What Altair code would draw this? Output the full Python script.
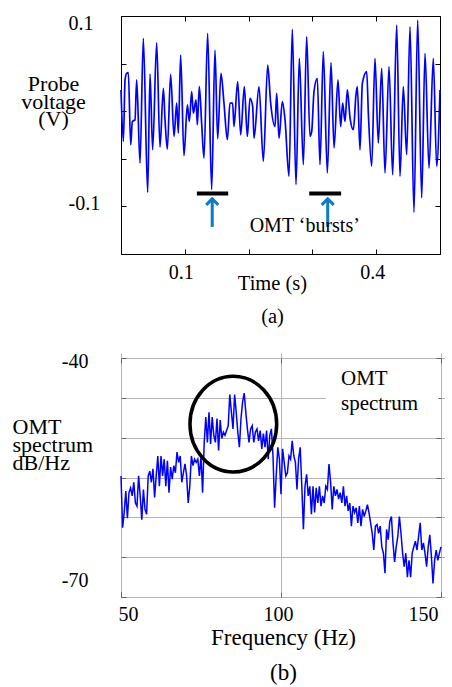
import altair as alt
import numpy as np
import pandas as pd

SERIF = "Liberation Serif, Times New Roman, serif"
TRACE_BLUE = "#0000ff"
ARROW_BLUE = "#0a7cc4"

# ---- (a) probe voltage: turning points of the recorded trace ----
time_s = [
    0.0, 0.0037, 0.0063, 0.0089, 0.0115, 0.0152, 0.0178, 0.0219, 0.0246, 0.0298,
    0.0350, 0.0418, 0.0455, 0.0496, 0.0559, 0.0611, 0.0664, 0.0690, 0.0726, 0.0778,
    0.0831, 0.0873, 0.0899, 0.0935, 0.0987, 0.1040, 0.1071, 0.1108, 0.1134, 0.1176,
    0.1196, 0.1228, 0.1264, 0.1301, 0.1358, 0.1421, 0.1473, 0.1515, 0.1567, 0.1614,
    0.1667, 0.1708, 0.1750, 0.1771, 0.1829, 0.1876, 0.1933, 0.1980, 0.2022, 0.2064,
    0.2085, 0.2163, 0.2231, 0.2299, 0.2346, 0.2414, 0.2440, 0.2477, 0.2529, 0.2571,
    0.2633, 0.2685, 0.2743, 0.2795, 0.2858, 0.2910, 0.2962, 0.2989, 0.3025, 0.3077,
    0.3119, 0.3171, 0.3234, 0.3292, 0.3339, 0.3401, 0.3443, 0.3474, 0.3511, 0.3548,
    0.3590, 0.3642, 0.3683, 0.3704, 0.3746, 0.3783, 0.3851, 0.3877, 0.3929, 0.3981,
    0.4033, 0.4086, 0.4138, 0.4201, 0.4258, 0.4321, 0.4373, 0.4425, 0.4478, 0.4530,
    0.4592, 0.4650, 0.4713, 0.4765, 0.4828, 0.4895, 0.4948, 0.5000,
]
voltage_v = [
    0.0223, -0.0318, 0.0328, 0.0398, 0.0405, -0.0353, -0.0108, -0.0091, 0.0328, -0.0545,
    0.0764, -0.0852, 0.0391, -0.0405, 0.0719, -0.0377, 0.0241, -0.0091, -0.0398, 0.0387,
    -0.0265, 0.0084, -0.0230, 0.0590, -0.0468, 0.0066, -0.0108, 0.0206, -0.0021, 0.0119,
    -0.0143, 0.0258, -0.0126, -0.0492, 0.0817, -0.0824, 0.0642, -0.0290, 0.0398, 0.0084,
    -0.0300, 0.0084, 0.0084, -0.0161, 0.0311, -0.0248, 0.0258, -0.0265, 0.0136, 0.0049,
    -0.0283, 0.0258, -0.0527, 0.0485, 0.0084, -0.0161, 0.0188, -0.0283, 0.0101, -0.0091,
    -0.0684, 0.0859, -0.0771, 0.0555, -0.0562, 0.0782, -0.0265, -0.0213, 0.0206, 0.0346,
    -0.0562, 0.0625, -0.0649, 0.0510, -0.0387, 0.0328, -0.0161, 0.0084, -0.0108, 0.0223,
    -0.0073, -0.0195, 0.0171, 0.0258, -0.0405, 0.0293, 0.0415, -0.0021, -0.0579, 0.0555,
    -0.0335, 0.0450, -0.0649, 0.0468, -0.0667, 0.0904, -0.0684, 0.0258, -0.0457, 0.0887,
    -0.1061, 0.0956, -0.0911, 0.0607, -0.0597, 0.0555, -0.0579, 0.0223,
]

# burst markers (bar spans, arrow positions) in data units
burst_start = [0.119, 0.295]
burst_end = [0.168, 0.345]
burst_level = -0.0864
arrow_time = [0.143, 0.324]
arrow_base, arrow_tip = -0.1215, -0.0921
burst_text = "OMT \u2018bursts\u2019"
burst_text_pos = (0.288, -0.1267)

# ---- (b) OMT spectrum, 0.5 Hz bins from 50 to 150 Hz ----
freq_start, freq_step = 50.0, 0.5
spectrum_db = [
    -54.8, -61.3, -59.4, -56.7, -60.1, -56.9, -56.3, -57.3, -55.6, -58.2,
    -58.6, -54.8, -57.3, -60.3, -56.5, -59.0, -59.6, -54.8, -54.2, -55.6,
    -53.9, -57.5, -54.8, -52.3, -56.1, -52.3, -54.8, -52.7, -56.1, -52.9,
    -56.9, -53.7, -55.2, -53.5, -54.4, -51.8, -53.1, -52.3, -55.6, -54.4,
    -53.3, -54.8, -58.2, -56.1, -52.3, -53.5, -52.7, -53.1, -52.7, -54.8,
    -52.3, -56.9, -50.6, -47.4, -50.6, -46.8, -50.8, -47.4, -49.7, -50.6,
    -47.6, -51.6, -47.8, -50.1, -49.3, -49.7, -49.1, -48.5, -44.6, -46.8,
    -48.9, -44.6, -46.8, -49.3, -51.2, -47.6, -45.5, -44.4, -46.8, -48.9,
    -50.6, -48.9, -48.5, -50.6, -49.3, -48.9, -50.4, -49.1, -51.4, -49.5,
    -51.2, -49.1, -52.7, -49.7, -48.9, -52.3, -58.8, -54.8, -51.2, -52.7,
    -57.1, -51.4, -53.1, -54.8, -54.4, -52.3, -52.7, -50.4, -52.3, -53.1,
    -56.5, -52.7, -51.2, -56.1, -61.5, -56.1, -54.6, -57.3, -56.1, -59.6,
    -56.1, -59.4, -56.3, -58.2, -56.1, -58.6, -57.3, -58.2, -56.1, -56.5,
    -53.3, -55.6, -59.0, -56.1, -57.3, -56.5, -57.7, -56.9, -58.2, -56.1,
    -58.6, -57.3, -59.2, -58.2, -61.1, -58.6, -59.4, -58.8, -60.7, -58.6,
    -61.1, -59.0, -59.9, -59.2, -58.4, -59.4, -60.7, -62.0, -64.1, -61.1,
    -60.9, -62.0, -61.1, -63.7, -64.5, -67.0, -61.5, -62.8, -60.5, -59.9,
    -63.2, -65.6, -63.7, -62.4, -59.9, -62.0, -64.5, -66.2, -64.5, -67.5,
    -65.4, -67.5, -64.5, -63.7, -63.0, -64.1, -62.4, -60.7, -64.1, -63.2,
    -64.5, -66.2, -63.7, -62.2, -64.9, -68.3, -65.4, -64.1, -65.4, -64.5,
    -63.7,
]
freq_hz = freq_start + freq_step * np.arange(len(spectrum_db))

# circled peak region and caption box (data units)
circle_center = (85.1, -48.3)
caption_pos = (118.75, -43.4)
caption_box = (114.0, 149.2, -40.2, -47.7)

# ---------------------------------------------------------------
ELLIPSE = "M-0.906,0A0.906,1,0,1,0,0.906,0A0.906,1,0,1,0,-0.906,0Z"
CHEVRON = "M-1,1L0,0L1,1"

x_ticks_a = [0, 0.1, 0.2, 0.3, 0.4, 0.5]
y_ticks_a = [-0.15, -0.1, -0.05, 0, 0.05, 0.1]
x_ticks_b = [50, 100, 150]
y_ticks_b = [-70, -65, -60, -55, -50, -45, -40]

xs_a = alt.Scale(domain=[0, 0.5], nice=False, zero=False)
ys_a = alt.Scale(domain=[-0.15, 0.1], nice=False, zero=False)
xs_b = alt.Scale(domain=[50, 150], nice=False, zero=False)
ys_b = alt.Scale(domain=[-70, -40], nice=False, zero=False)

tick_only = dict(labels=False, title=None, domain=False, grid=False,
                 tickSize=5, offset=-5)

# ---------------- panel (a) ----------------
trace = pd.DataFrame({"t": time_s, "v": voltage_v})

line_a = alt.Chart(trace).mark_line(
    color=TRACE_BLUE, strokeWidth=1.7, interpolate="monotone"
).encode(
    x=alt.X("t:Q", scale=xs_a, axis=alt.Axis(
        orient="bottom", values=x_ticks_a, tickColor="black", grid=False,
        labelExpr="datum.value == 0.1 ? '0.1' : datum.value == 0.4 ? '0.4' : ''",
        labelPadding=8, labelOffset=-4,
        title=["Time (s)", "(a)"], titleFontSize=20.5, titleX=151, titleY=40,
        titleAlign="center", titleBaseline="alphabetic", titleLineHeight=33)),
    y=alt.Y("v:Q", scale=ys_a, axis=alt.Axis(
        orient="left", values=y_ticks_a, tickColor="black", grid=False,
        labelExpr="datum.value == 0.1 ? '0.1' : datum.value == -0.1 ? '-0.1' : ''",
        labelAlign="left", labelPadding=53, labelFlush=True, labelOffset=-3,
        title=["Probe", "voltage", "(V)"], titleFontSize=22, titleAngle=0,
        titleX=-73, titleY=74.5,
        titleAlign="center", titleBaseline="alphabetic", titleLineHeight=17.5)),
)

frame_ticks_a = alt.Chart(trace).mark_line(strokeOpacity=0).encode(
    x=alt.X("t:Q", scale=xs_a, axis=alt.Axis(orient="top", values=x_ticks_a,
                                            tickColor="black", **tick_only)),
    y=alt.Y("v:Q", scale=ys_a, axis=alt.Axis(orient="right", values=y_ticks_a,
                                            tickColor="black", **tick_only)),
)

bursts = pd.DataFrame({"t0": burst_start, "t1": burst_end,
                       "v": [burst_level] * len(burst_start)})
burst_bars = alt.Chart(bursts).mark_rule(color="black", strokeWidth=4).encode(
    x=alt.X("t0:Q", scale=xs_a, axis=None),
    x2="t1:Q",
    y=alt.Y("v:Q", scale=ys_a, axis=None),
)

arrows = pd.DataFrame({"t": arrow_time,
                       "v0": [arrow_base] * len(arrow_time),
                       "v1": [arrow_tip + 0.001] * len(arrow_time),
                       "tip": [arrow_tip] * len(arrow_time)})
arrow_shafts = alt.Chart(arrows).mark_rule(color=ARROW_BLUE, strokeWidth=3).encode(
    x=alt.X("t:Q", scale=xs_a, axis=None),
    y=alt.Y("v0:Q", scale=ys_a, axis=None),
    y2="v1:Q",
)
arrow_heads = alt.Chart(arrows).mark_point(
    shape=CHEVRON, size=144, filled=False, color=ARROW_BLUE,
    strokeWidth=3, opacity=1
).encode(
    x=alt.X("t:Q", scale=xs_a, axis=None),
    y=alt.Y("tip:Q", scale=ys_a, axis=None),
)

burst_label = alt.Chart(pd.DataFrame({"t": [burst_text_pos[0]],
                                      "v": [burst_text_pos[1]],
                                      "s": [burst_text]})).mark_text(
    font=SERIF, fontSize=20, color="black", align="center", baseline="alphabetic"
).encode(
    x=alt.X("t:Q", scale=xs_a, axis=None),
    y=alt.Y("v:Q", scale=ys_a, axis=None),
    text="s:N",
)

panel_a = alt.layer(
    line_a, frame_ticks_a, burst_bars, arrow_shafts, arrow_heads, burst_label
).resolve_axis(x="independent", y="independent").properties(
    width=319, height=238,
    view=alt.ViewBackground(stroke="black", strokeWidth=1),
)

# ---------------- panel (b) ----------------
spec = pd.DataFrame({"f": freq_hz, "db": spectrum_db})

grid_style = dict(grid=True, gridColor="#b4b4b4", gridWidth=1)

line_b = alt.Chart(spec).mark_line(color=TRACE_BLUE, strokeWidth=1.5).encode(
    x=alt.X("f:Q", scale=xs_b, axis=alt.Axis(
        orient="bottom", values=x_ticks_b, tickColor="#666666", format="d",
        labelPadding=7, labelOffset=-3,
        title=["Frequency (Hz)", "(b)"], titleFontSize=23, titleX=162, titleY=52,
        titleAlign="center", titleBaseline="alphabetic", titleLineHeight=35,
        **grid_style)),
    y=alt.Y("db:Q", scale=ys_b, axis=alt.Axis(
        orient="left", values=y_ticks_b, tickColor="#666666",
        labelExpr="datum.value == -40 ? '-40' : datum.value == -70 ? '-70' : ''",
        labelAlign="right", labelPadding=33, labelFlush=True, labelOffset=-7,
        title=["OMT", "spectrum", "dB/Hz"], titleFontSize=22, titleAngle=0,
        titleX=-114, titleY=75.5,
        titleAlign="left", titleBaseline="alphabetic", titleLineHeight=18,
        **grid_style)),
)

frame_ticks_b = alt.Chart(spec).mark_line(strokeOpacity=0).encode(
    x=alt.X("f:Q", scale=xs_b, axis=alt.Axis(orient="top", values=x_ticks_b,
                                            tickColor="#666666", **tick_only)),
    y=alt.Y("db:Q", scale=ys_b, axis=alt.Axis(orient="right", values=y_ticks_b,
                                             tickColor="#666666", **tick_only)),
)

box = alt.Chart(pd.DataFrame({"f0": [caption_box[0]], "f1": [caption_box[1]],
                              "d0": [caption_box[2]], "d1": [caption_box[3]]})
                ).mark_rect(color="white").encode(
    x=alt.X("f0:Q", scale=xs_b, axis=None), x2="f1:Q",
    y=alt.Y("d0:Q", scale=ys_b, axis=None), y2="d1:Q",
)

caption = alt.Chart(pd.DataFrame({"f": [caption_pos[0]], "db": [caption_pos[1]],
                                  "s": ["OMT\nspectrum"]})).mark_text(
    font=SERIF, fontSize=21, color="black", align="left", baseline="alphabetic",
    lineBreak="\n", lineHeight=25
).encode(
    x=alt.X("f:Q", scale=xs_b, axis=None),
    y=alt.Y("db:Q", scale=ys_b, axis=None),
    text="s:N",
)

ring = alt.Chart(pd.DataFrame({"f": [circle_center[0]],
                               "db": [circle_center[1]]})).mark_point(
    shape=ELLIPSE, size=9160, filled=False, color="black",
    strokeWidth=3.5, opacity=1
).encode(
    x=alt.X("f:Q", scale=xs_b, axis=None),
    y=alt.Y("db:Q", scale=ys_b, axis=None),
)

panel_b = alt.layer(
    box, line_b, frame_ticks_b, caption, ring
).resolve_axis(x="independent", y="independent").properties(
    width=320, height=239,
    view=alt.ViewBackground(stroke="#6e6e6e", strokeWidth=1),
)

chart = alt.vconcat(panel_a, panel_b, spacing=23).properties(
    padding={"left": 11, "top": 12, "right": 0, "bottom": 4},
    background="white",
).configure_axis(
    labelFont=SERIF, labelFontSize=20, labelColor="black",
    titleFont=SERIF, titleFontSize=20, titleFontWeight="normal", titleColor="black",
    domain=False, tickSize=5, offset=-5, tickWidth=1, grid=False,
)

chart.save("out.html", embed_options={"renderer": "svg", "actions": False})
